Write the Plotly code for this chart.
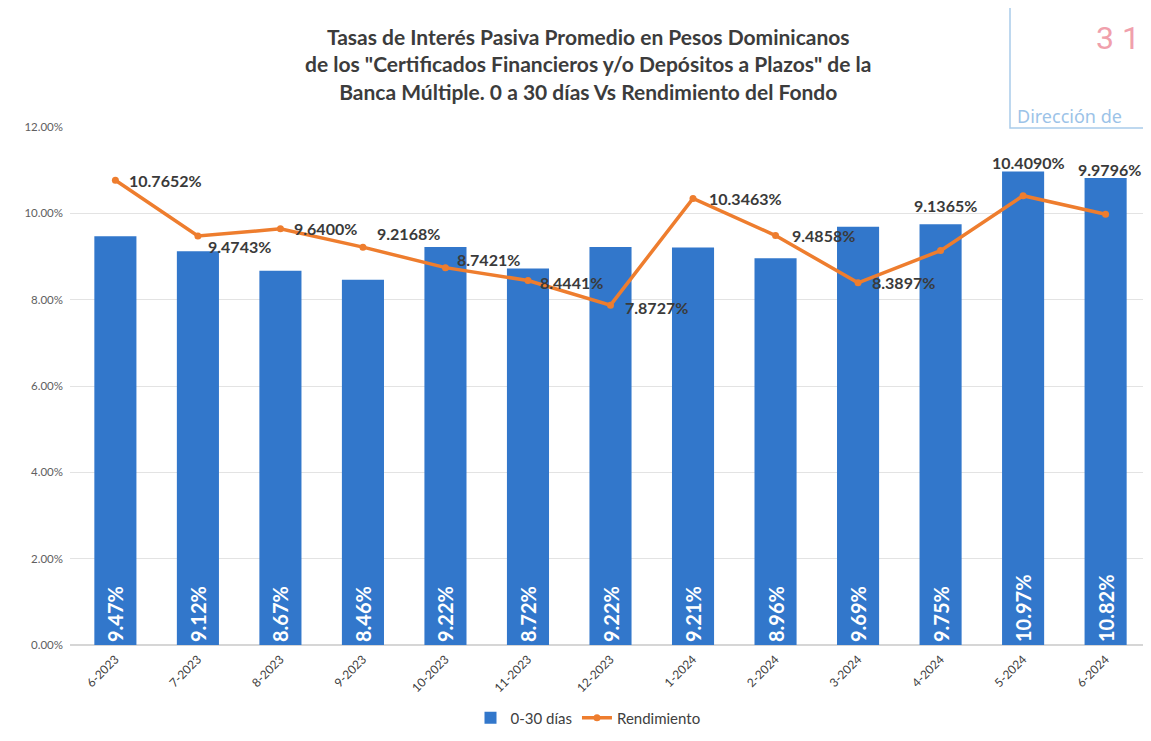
import plotly.graph_objects as go

# ---- data ----
months = ["6-2023", "7-2023", "8-2023", "9-2023", "10-2023", "11-2023", "12-2023",
          "1-2024", "2-2024", "3-2024", "4-2024", "5-2024", "6-2024"]
tasa_0_30 = [9.47, 9.12, 8.67, 8.46, 9.22, 8.72, 9.22, 9.21, 8.96, 9.69, 9.75, 10.97, 10.82]
rendimiento = [10.7652, 9.4743, 9.6400, 9.2168, 8.7421, 8.4441, 7.8727,
               10.3463, 9.4858, 8.3897, 9.1365, 10.4090, 9.9796]
y_ticks = [0, 2, 4, 6, 8, 10, 12]
y_tick_labels = ["0.00%", "2.00%", "4.00%", "6.00%", "8.00%", "10.00%", "12.00%"]

# label placement (styling only)
lab_xanchor = ["left"] * 10 + ["center"] * 3
lab_xshift = [12, 8, 12, 12, 10, 10, 12, 14, 14, 12, 5, 5, 4]
lab_yshift = [0, -10, 0, 14, 8, -2, -2, 0, 0, 0, 45, 33, 45]

# page has an 8px body margin: work in page pixels, convert to figure pixels
OFF = 8
W, H = 1151 - OFF, 741 - OFF
ML, MR, MT, MB = 70 - OFF, 0, 127 - OFF, H - (645 - OFF)

BLUE = "#3277CB"
ORANGE = "#EE7D2E"
FONT = "Lato"

fig = go.Figure()
fig.add_trace(go.Bar(
    x=months, y=tasa_0_30, name="0-30 días",
    marker=dict(color=BLUE, line=dict(width=0)),
    width=0.51,
    texttemplate="%{y:.2f}%", textposition="inside", insidetextanchor="start",
    textangle=-90,
    textfont=dict(family=FONT, size=20, color="white", weight="bold"),
    cliponaxis=False,
))
fig.add_trace(go.Scatter(
    x=months, y=rendimiento, name="Rendimiento", mode="lines+markers",
    line=dict(color=ORANGE, width=3.5),
    marker=dict(color=ORANGE, size=7),
))

for m, v, xa, xs, ys in zip(months, rendimiento, lab_xanchor, lab_xshift, lab_yshift):
    fig.add_annotation(
        x=m, y=v, text=f"{v:.4f}%", showarrow=False,
        xanchor=xa, yanchor="middle", xshift=xs, yshift=ys,
        font=dict(family=FONT, size=16, color="#3A3A3A", weight="bold"),
    )

# title
title_lines = ["Tasas de Interés Pasiva Promedio en Pesos Dominicanos",
               "de los \"Certificados Financieros y/o Depósitos a Plazos\" de la",
               "Banca Múltiple. 0 a 30 días Vs Rendimiento del Fondo"]
pw = W - ML - MR
ph = H - MT - MB
def px_x(p):
    return (p - OFF - ML) / pw
def px_y(p):
    return (H - MB - (p - OFF)) / ph

fig.add_annotation(
    xref="paper", yref="paper", x=px_x(588), y=px_y(64),
    text="<br>".join(title_lines), showarrow=False, align="center",
    xanchor="center", yanchor="middle",
    font=dict(family=FONT, size=21, color="#3C3C3C", weight="bold"),
)

# stamp in the corner
fig.add_shape(type="rect", xref="paper", yref="paper",
              x0=px_x(1010), x1=px_x(1170), y0=px_y(128), y1=px_y(-5),
              line=dict(color="#A9CBEA", width=1.5))
fig.add_annotation(xref="paper", yref="paper", x=px_x(1094), y=px_y(38),
                   text="3 1", showarrow=False, xanchor="left", yanchor="middle",
                   font=dict(family="Roboto", size=32, color="#F0A0AC"))
fig.add_annotation(xref="paper", yref="paper", x=px_x(1015), y=px_y(116),
                   text="Dirección de", showarrow=False, xanchor="left", yanchor="middle",
                   font=dict(family="Noto Sans", size=18, color="#9CC3E8"))

fig.update_layout(
    width=W, height=H,
    margin=dict(l=ML, r=MR, t=MT, b=MB, autoexpand=False),
    paper_bgcolor="white", plot_bgcolor="white",
    showlegend=True,
    legend=dict(orientation="h", x=px_x(588), xanchor="center", y=px_y(718), yanchor="middle",
                font=dict(family=FONT, size=15, color="#404040"), traceorder="normal",
                itemwidth=30, tracegroupgap=0),
    bargap=0.4,
)
fig.update_xaxes(
    range=[-0.55, 12.55], tickangle=-45, automargin=False,
    tickfont=dict(family=FONT, size=12, color="#404040"),
    showgrid=False, showline=False, ticks="", ticklabelstandoff=4,
)
fig.update_yaxes(
    range=[0, 12], tickvals=y_ticks, ticktext=y_tick_labels, automargin=False,
    tickfont=dict(family=FONT, size=11.5, color="#606060"),
    showgrid=True, gridcolor="#E3E3E3", gridwidth=1, zeroline=True,
    zerolinecolor="#D6D6D6", showline=False, ticks="", ticklabelstandoff=6,
)

fig.write_html("out.html")
